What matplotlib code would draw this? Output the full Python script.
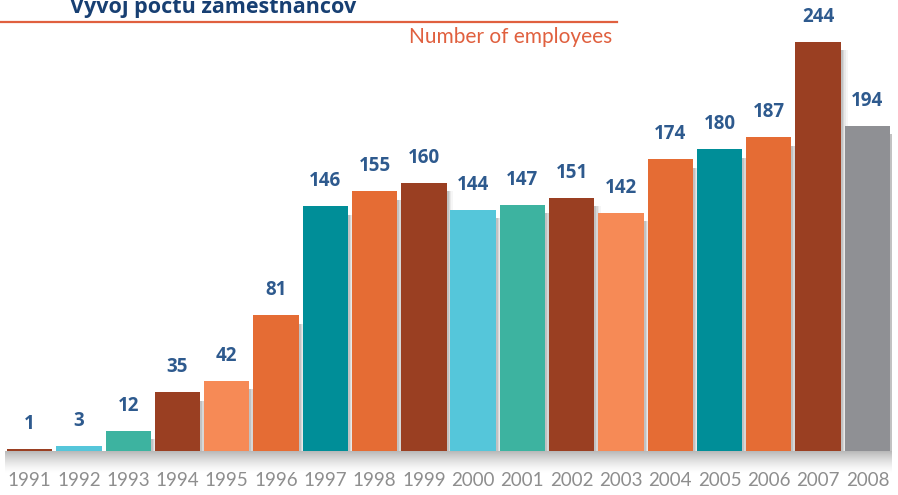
import numpy as np
import matplotlib
matplotlib.use('Agg')
import matplotlib.pyplot as plt

# data
years = ['1991', '1992', '1993', '1994', '1995', '1996', '1997', '1998', '1999',
         '2000', '2001', '2002', '2003', '2004', '2005', '2006', '2007', '2008']
employees = [1, 3, 12, 35, 42, 81, 146, 155, 160, 144, 147, 151, 142, 174, 180, 187, 244, 194]
bar_colors = ['#9a3f22', '#55c6da', '#3db3a0', '#9a3f22', '#f68a56', '#e56c34',
              '#008e98', '#e56c34', '#9a3f22', '#55c6da', '#3db3a0', '#9a3f22',
              '#f68a56', '#e56c34', '#008e98', '#e56c34', '#9a3f22', '#8f9094']

title_sk = 'Vývoj počtu zamestnancov'
title_en = 'Number of employees'

fig = plt.figure(figsize=(8.98, 4.95), dpi=100)
W, H = 898, 495

# shadow under baseline (drawn first so labels stay on top)
grad = fig.add_axes([5 / W, (H - 474) / H, 887 / W, 23 / H])
g = np.linspace(1, 0, 30).reshape(-1, 1) ** 1.5
grad.imshow(np.dstack([np.full_like(g, 0.45)] * 3 + [g * 0.5]),
            aspect='auto', extent=(0, 1, 0, 1))
grad.axis('off')

# axes: baseline at y=451px, slots from x~5 to ~892
ax = fig.add_axes([5 / W, (H - 451) / H, 887 / W, 451 / H])
ax.set_xlim(-0.5, len(years) - 0.5)
ax.set_ylim(0, 269)
ax.axis('off')

x = np.arange(len(years))

# soft shadow to the right of each bar
for off, a in [(0.14, 0.05), (0.10, 0.08), (0.07, 0.12), (0.04, 0.16)]:
    ax.bar(x + off, np.array(employees) - 5, width=0.92, color='#555555',
           alpha=a, zorder=1, linewidth=0)

ax.bar(x, employees, width=0.92, color=bar_colors, zorder=2, linewidth=0)

for xi, v in zip(x, employees):
    ax.annotate(str(v), (xi, v), xytext=(0, 18), textcoords='offset points',
                ha='center', va='center', fontsize=13.5, fontweight='bold',
                color='#2e5a8e', family=['Open Sans', 'DejaVu Sans'])

# year labels
for xi, yr in zip(x, years):
    ax.annotate(yr, (xi, 0), xytext=(0, -30 * 0.72), textcoords='offset points',
                ha='center', va='center', fontsize=13.5, fontweight='normal',
                color='#8e8e8e', family=['Lato', 'DejaVu Sans'])

# header (title partly cut off at the top, as in the original)
fig.text(70 / W, 1 - 13 / H, title_sk, ha='left', va='baseline', fontsize=15.5,
         fontweight='bold', color='#173f72', family=['Open Sans', 'DejaVu Sans'])
fig.add_artist(plt.Line2D([0, 617 / W], [1 - 22 / H, 1 - 22 / H], color='#e0603f',
                          linewidth=1.6))
fig.text(612 / W, 1 - 37 / H, title_en, ha='right', va='center', fontsize=15,
         fontweight='normal', color='#e0603f', family=['Lato', 'DejaVu Sans'])

fig.savefig('out.png', dpi=100, facecolor='white')
